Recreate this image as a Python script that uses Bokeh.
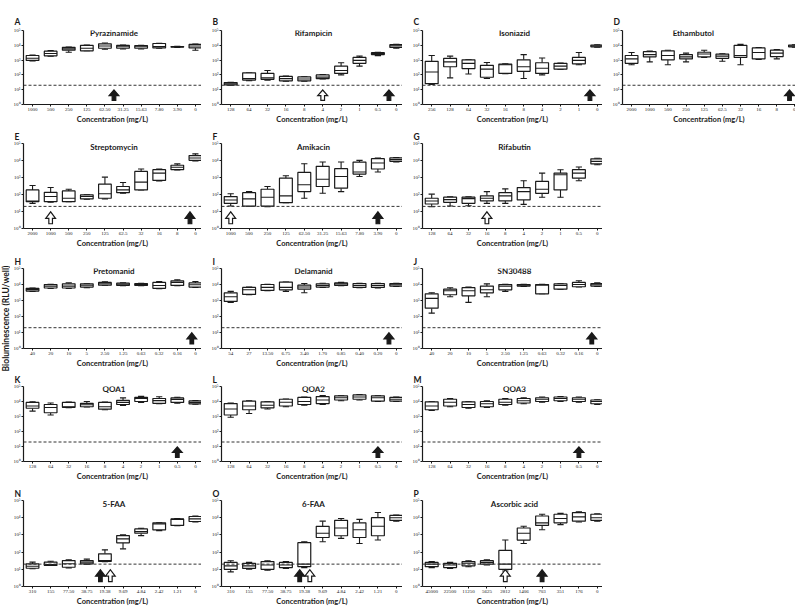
import math
from bokeh.plotting import figure
from bokeh.models import Range1d, FixedTicker, Span, Label, Spacer
from bokeh.layouts import row, column
from bokeh.embed import file_html
from bokeh.resources import INLINE

# ---------------- data (box stats are log10 RLU/well: low whisker, Q1, median, Q3, high whisker)
conc_pza = ["1000", "500", "250", "125", "62.50", "31.25", "15.63", "7.80", "3.90", "0"]
conc_rif = ["128", "64", "32", "16", "8", "4", "2", "1", "0.5", "0"]
conc_inh = ["256", "128", "64", "32", "16", "8", "4", "2", "1", "0"]
conc_emb = ["2000", "1000", "500", "250", "125", "62.5", "32", "16", "8", "0"]
conc_pa = ["40", "20", "10", "5", "2.50", "1.25", "0.63", "0.32", "0.16", "0"]
conc_dlm = ["54", "27", "13.50", "6.75", "3.40", "1.70", "0.85", "0.40", "0.20", "0"]
conc_faa = ["310", "155", "77.50", "38.75", "19.38", "9.69", "4.84", "2.42", "1.21", "0"]
conc_asc = ["45000", "22500", "11250", "5625", "2812", "1406", "703", "351", "176", "0"]

box_pyrazinamide = [[2.95, 2.98, 3.12, 3.31, 3.34], [3.27, 3.29, 3.45, 3.60, 3.65], [3.53, 3.67, 3.76, 3.86, 3.88],
                    [3.63, 3.63, 3.80, 4.00, 4.02], [3.73, 3.80, 3.95, 4.10, 4.16], [3.75, 3.80, 3.90, 4.00, 4.02],
                    [3.75, 3.80, 3.90, 3.98, 4.00], [3.80, 3.82, 3.92, 4.12, 4.14], [3.86, 3.88, 3.90, 3.92, 3.94],
                    [3.67, 3.82, 3.95, 4.06, 4.08]]
box_rifampicin = [[1.30, 1.32, 1.40, 1.48, 1.50], [1.60, 1.65, 1.75, 2.14, 2.14], [1.65, 1.70, 1.80, 2.10, 2.30],
                  [1.57, 1.60, 1.75, 1.90, 1.92], [1.58, 1.60, 1.72, 1.86, 1.88], [1.72, 1.75, 1.85, 2.00, 2.02],
                  [2.00, 2.10, 2.30, 2.59, 2.82], [2.59, 2.78, 2.98, 3.18, 3.27], [3.30, 3.37, 3.45, 3.50, 3.52],
                  [3.80, 3.85, 3.96, 4.04, 4.06]]
box_isoniazid = [[1.35, 1.41, 2.20, 2.92, 3.31], [1.80, 2.55, 2.88, 3.12, 3.27], [2.06, 2.43, 2.78, 3.02, 3.04],
                 [1.76, 1.84, 2.39, 2.65, 2.84], [2.08, 2.10, 2.69, 2.73, 2.75], [1.76, 2.24, 2.55, 3.02, 3.37],
                 [2.00, 2.10, 2.45, 2.82, 3.14], [2.37, 2.39, 2.59, 2.78, 2.80], [2.69, 2.75, 2.98, 3.18, 3.51],
                 [3.88, 3.90, 3.96, 4.02, 4.04]]
box_ethambutol = [[2.69, 2.78, 3.08, 3.31, 3.51], [2.88, 3.22, 3.37, 3.57, 3.61], [2.69, 3.02, 3.31, 3.63, 3.67],
                  [2.88, 3.08, 3.22, 3.37, 3.47], [3.18, 3.22, 3.41, 3.53, 3.67], [2.92, 3.12, 3.27, 3.41, 3.43],
                  [2.69, 3.18, 3.31, 4.00, 4.06], [3.04, 3.08, 3.51, 3.82, 3.84], [3.08, 3.24, 3.47, 3.67, 3.71],
                  [3.88, 3.90, 3.96, 4.02, 4.04]]
box_streptomycin = [[1.48, 1.58, 1.62, 2.27, 2.53], [1.54, 1.58, 1.88, 2.13, 2.41], [1.58, 1.58, 1.78, 2.21, 2.31],
                    [1.72, 1.74, 1.88, 1.98, 2.00], [1.74, 1.78, 2.04, 2.61, 3.02], [2.07, 2.11, 2.27, 2.47, 2.71],
                    [2.27, 2.27, 2.73, 3.36, 3.50], [2.80, 2.83, 3.26, 3.46, 3.50], [3.44, 3.46, 3.60, 3.72, 3.80],
                    [3.98, 4.01, 4.15, 4.29, 4.39]]
box_amikacin = [[1.32, 1.48, 1.68, 1.88, 2.04], [1.32, 1.32, 1.74, 2.11, 2.17], [1.28, 1.32, 1.84, 2.31, 2.47],
                [1.52, 1.52, 1.92, 2.96, 3.10], [1.78, 2.17, 2.57, 3.30, 3.81], [2.07, 2.47, 2.90, 3.66, 3.91],
                [2.17, 2.37, 3.06, 3.52, 3.91], [3.06, 3.20, 3.32, 3.91, 4.01], [3.32, 3.50, 3.85, 4.11, 4.15],
                [3.92, 3.95, 4.05, 4.15, 4.17]]
box_rifabutin = [[1.28, 1.44, 1.62, 1.78, 2.02], [1.32, 1.54, 1.70, 1.84, 1.86], [1.34, 1.48, 1.76, 1.84, 1.86],
                 [1.48, 1.62, 1.78, 1.92, 2.17], [1.48, 1.62, 1.92, 2.11, 2.33], [1.42, 1.68, 2.17, 2.41, 2.81],
                 [1.84, 2.07, 2.31, 2.77, 3.26], [1.84, 2.27, 3.16, 3.26, 3.46], [2.81, 2.96, 3.26, 3.46, 3.62],
                 [3.75, 3.80, 3.95, 4.10, 4.13]]
box_pretomanid = [[3.57, 3.59, 3.68, 3.76, 3.78], [3.76, 3.78, 3.90, 4.00, 4.02], [3.76, 3.78, 3.90, 4.04, 4.10],
                  [3.80, 3.84, 3.95, 4.04, 4.06], [3.94, 3.96, 4.05, 4.13, 4.17], [3.92, 3.94, 4.02, 4.08, 4.10],
                  [3.92, 3.94, 4.00, 4.06, 4.08], [3.74, 3.76, 3.94, 4.13, 4.19], [3.92, 3.94, 4.13, 4.23, 4.29],
                  [3.82, 3.84, 3.98, 4.10, 4.19]]
box_delamanid = [[2.88, 2.94, 3.23, 3.48, 3.57], [3.36, 3.38, 3.67, 3.82, 3.84], [3.61, 3.63, 3.82, 4.00, 4.02],
                 [3.57, 3.67, 3.82, 4.15, 4.15], [3.48, 3.71, 3.84, 3.96, 4.06], [3.82, 3.84, 3.94, 4.04, 4.08],
                 [3.92, 3.94, 4.04, 4.10, 4.13], [3.80, 3.82, 3.94, 4.06, 4.08], [3.78, 3.82, 3.94, 4.06, 4.08],
                 [3.88, 3.90, 3.98, 4.06, 4.08]]
box_sn30488 = [[2.21, 2.52, 3.13, 3.42, 3.48], [3.23, 3.36, 3.61, 3.71, 3.80], [2.88, 3.29, 3.61, 3.80, 3.84],
               [3.23, 3.48, 3.67, 3.90, 4.04], [3.57, 3.67, 3.90, 4.00, 4.02], [3.88, 3.90, 3.96, 4.00, 4.02],
               [3.42, 3.42, 3.96, 4.00, 4.02], [3.69, 3.71, 3.94, 4.04, 4.06], [3.84, 3.86, 4.00, 4.13, 4.23],
               [3.88, 3.90, 3.98, 4.06, 4.10]]
box_qoa1 = [[3.36, 3.55, 3.70, 3.94, 3.98], [3.10, 3.25, 3.60, 3.80, 3.90], [3.59, 3.61, 3.65, 3.94, 3.96],
            [3.63, 3.65, 3.78, 3.88, 4.00], [3.45, 3.49, 3.65, 3.94, 3.96], [3.74, 3.80, 3.94, 4.08, 4.24],
            [3.94, 4.00, 4.20, 4.28, 4.34], [3.86, 3.88, 4.06, 4.20, 4.32], [3.88, 3.94, 4.14, 4.24, 4.28],
            [3.82, 3.84, 3.94, 4.04, 4.06]]
box_qoa2 = [[2.95, 3.10, 3.50, 3.86, 3.90], [3.20, 3.45, 3.70, 4.03, 4.05], [3.50, 3.57, 3.75, 3.98, 4.00],
            [3.65, 3.70, 3.95, 4.15, 4.17], [3.75, 3.80, 4.00, 4.27, 4.29], [3.80, 3.86, 4.10, 4.33, 4.40],
            [4.05, 4.10, 4.25, 4.38, 4.40], [4.10, 4.15, 4.30, 4.44, 4.46], [4.00, 4.03, 4.25, 4.38, 4.40],
            [4.00, 4.03, 4.15, 4.27, 4.29]]
box_qoa3 = [[3.40, 3.45, 3.70, 3.98, 4.00], [3.65, 3.70, 3.95, 4.15, 4.20], [3.55, 3.60, 3.80, 3.98, 4.00],
            [3.60, 3.65, 3.85, 4.00, 4.05], [3.75, 3.80, 3.95, 4.15, 4.20], [3.85, 3.90, 4.05, 4.20, 4.25],
            [3.95, 4.00, 4.15, 4.25, 4.30], [4.00, 4.05, 4.20, 4.30, 4.33], [3.95, 4.00, 4.15, 4.25, 4.30],
            [3.80, 3.85, 4.00, 4.10, 4.12]]
box_5faa = [[1.03, 1.06, 1.18, 1.31, 1.42], [1.22, 1.22, 1.28, 1.42, 1.47], [1.08, 1.12, 1.32, 1.51, 1.55],
            [1.30, 1.32, 1.42, 1.51, 1.59], [1.44, 1.46, 1.51, 1.90, 2.13], [2.19, 2.54, 2.77, 2.96, 3.00],
            [2.96, 3.10, 3.20, 3.35, 3.39], [3.25, 3.29, 3.64, 3.70, 3.72], [3.53, 3.55, 3.90, 3.93, 3.95],
            [3.76, 3.78, 3.93, 4.07, 4.10]]
box_6faa = [[0.85, 1.00, 1.20, 1.40, 1.50], [1.00, 1.05, 1.20, 1.35, 1.40], [0.95, 1.00, 1.25, 1.45, 1.50],
            [1.05, 1.10, 1.25, 1.40, 1.45], [1.10, 1.15, 1.30, 2.55, 2.60], [2.60, 2.85, 3.10, 3.50, 3.80],
            [2.80, 2.95, 3.40, 3.85, 3.95], [2.50, 2.85, 3.30, 3.70, 3.90], [2.70, 2.95, 3.50, 4.00, 4.30],
            [3.80, 3.84, 4.00, 4.13, 4.15]]
box_ascorbic = [[1.10, 1.15, 1.30, 1.40, 1.45], [1.05, 1.10, 1.25, 1.35, 1.40], [1.15, 1.20, 1.35, 1.45, 1.50],
                [1.25, 1.30, 1.40, 1.50, 1.55], [0.90, 1.00, 1.30, 2.10, 2.70], [2.50, 2.70, 3.10, 3.40, 3.50],
                [3.30, 3.55, 3.70, 4.10, 4.20], [3.60, 3.70, 3.95, 4.20, 4.25], [3.75, 3.80, 4.05, 4.30, 4.35],
                [3.80, 3.85, 4.00, 4.20, 4.22]]

# arrow positions (concentration index, 1-based) : filled = MIC, open = other marker
filled_arrows = {"A": [5.5], "B": [9.6], "C": [9.6], "D": [9.7], "E": [9.7], "F": [9], "G": [],
                 "H": [9.8], "I": [9.6], "J": [9.7], "K": [9], "L": [9], "M": [9],
                 "N": [4.75], "O": [4.75], "P": [7]}
open_arrows = {"A": [], "B": [6], "C": [], "D": [], "E": [2], "F": [1], "G": [4],
               "H": [], "I": [], "J": [], "K": [], "L": [], "M": [],
               "N": [5.3], "O": [5.3], "P": [5]}

detection_limit_log10 = 1.3
y_ticks = [1, 10, 100, 1000, 10000, 100000]
y_tick_labels = ["10⁰", "10¹", "10²", "10³", "10⁴", "10⁵"]
x_title = "Concentration (mg/L)"
y_title = "Bioluminescence (RLU/well)"

panels = [
    [("A", "Pyrazinamide", conc_pza, box_pyrazinamide), ("B", "Rifampicin", conc_rif, box_rifampicin),
     ("C", "Isoniazid", conc_inh, box_isoniazid), ("D", "Ethambutol", conc_emb, box_ethambutol)],
    [("E", "Streptomycin", conc_emb, box_streptomycin), ("F", "Amikacin", conc_pza, box_amikacin),
     ("G", "Rifabutin", conc_rif, box_rifabutin)],
    [("H", "Pretomanid", conc_pa, box_pretomanid), ("I", "Delamanid", conc_dlm, box_delamanid),
     ("J", "SN30488", conc_pa, box_sn30488)],
    [("K", "QOA1", conc_rif, box_qoa1), ("L", "QOA2", conc_rif, box_qoa2), ("M", "QOA3", conc_rif, box_qoa3)],
    [("N", "5-FAA", conc_faa, box_5faa), ("O", "6-FAA", conc_faa, box_6faa), ("P", "Ascorbic acid", conc_asc, box_ascorbic)],
]

# ---------------- layout constants
LABEL_W = 10
COL_W = [191, 201, 200, 193]
COL_LEFT = [10, 20, 20, 20]
CAT_PX = 18.4
ROW_H = [126, 124, 120, 113, 128]
ROW_TOP = [30, 17, 18, 16, 17]
ROW_BOTTOM = [18, 18, 18, 18, 25]
TITLE_STANDOFF = [8, 4, 4, 3, 4]
INK = "#1a1a1a"
TITLE_FONT = "Lato"

ARROW_DX = [-0.1, -0.1, -0.27, 0.0, 0.27, 0.1, 0.1]
ARROW_LY = [0.28, 0.6, 0.6, 0.98, 0.6, 0.6, 0.28]


def make_panel(ci, ri, letter, name, conc, box):
    width, left = COL_W[ci], COL_LEFT[ci]
    frame_w = width - left
    x_start = 0.5
    x_end = x_start + frame_w / CAT_PX if ci < 3 else 10.03
    p = figure(width=width, height=ROW_H[ri], x_range=Range1d(x_start, x_end), y_range=Range1d(1, 1e5),
               y_axis_type="log", output_backend="svg", toolbar_location=None,
               min_border_left=left, min_border_right=0, min_border_top=ROW_TOP[ri],
               min_border_bottom=ROW_BOTTOM[ri])
    p.outline_line_color = None
    p.grid.visible = False
    p.background_fill_color = "white"

    # panel letter
    p.title.text = letter
    p.title.align = "left"
    p.title.offset = -9
    p.title.standoff = TITLE_STANDOFF[ri]
    p.title.text_font = TITLE_FONT
    p.title.text_font_size = "8.5px"
    p.title.text_font_style = "bold"
    p.title.text_color = INK

    for ax in (p.xaxis[0], p.yaxis[0]):
        ax.axis_line_color = INK
        ax.axis_line_width = 1.2
        ax.major_tick_line_color = INK
        ax.major_tick_out = 2
        ax.major_tick_in = 0
        ax.minor_tick_line_color = None
        ax.major_label_text_font = "Liberation Serif"
        ax.major_label_text_color = INK
        ax.major_label_standoff = 1
        ax.major_label_text_line_height = 0.9
        ax.major_label_text_font_size = "5px"

    p.yaxis.ticker = FixedTicker(ticks=y_ticks)
    p.yaxis.major_label_overrides = {t: s for t, s in zip(y_ticks, y_tick_labels)}
    xs = list(range(1, len(conc) + 1))
    p.xaxis.ticker = FixedTicker(ticks=xs)
    p.xaxis.major_label_overrides = {x: c for x, c in zip(xs, conc)}
    p.xaxis.axis_label = x_title
    p.xaxis.axis_label_text_font = TITLE_FONT
    p.xaxis.axis_label_text_font_size = "7.5px"
    p.xaxis.axis_label_text_font_style = "bold"
    p.xaxis.axis_label_text_color = INK
    p.xaxis.axis_label_text_line_height = 0.9
    p.xaxis.axis_label_standoff = 1

    # detection limit
    p.add_layout(Span(location=10 ** detection_limit_log10, dimension="width", line_dash="3 2",
                      line_color="#333333", line_width=1))

    lo = [10 ** b[0] for b in box]
    q1 = [10 ** b[1] for b in box]
    md = [10 ** b[2] for b in box]
    q3 = [10 ** b[3] for b in box]
    hi = [10 ** b[4] for b in box]
    cap, half = 0.17, 0.35
    p.segment(xs, lo, xs, q1, line_color=INK, line_width=1.1)
    p.segment(xs, q3, xs, hi, line_color=INK, line_width=1.1)
    p.segment([x - cap for x in xs], lo, [x + cap for x in xs], lo, line_color=INK, line_width=1.1)
    p.segment([x - cap for x in xs], hi, [x + cap for x in xs], hi, line_color=INK, line_width=1.1)
    p.vbar(x=xs, width=2 * half, bottom=q1, top=q3, fill_color="white", line_color=INK, line_width=1.2)
    p.segment([x - half for x in xs], md, [x + half for x in xs], md, line_color=INK, line_width=1.1)

    # arrows
    for positions, fill in ((filled_arrows[letter], INK), (open_arrows[letter], "white")):
        if positions:
            pxs = [[x + d for d in ARROW_DX] for x in positions]
            pys = [[10 ** v for v in ARROW_LY] for _ in positions]
            p.patches(pxs, pys, fill_color=fill, line_color=INK, line_width=1.2, line_join="miter")

    title_x = 5.5 if letter != "D" else 4.4
    p.add_layout(Label(x=title_x, y=10 ** 4.82, text=name, text_align="center", text_baseline="middle",
                       text_font=TITLE_FONT, text_font_size="8px", text_font_style="bold", text_color=INK))
    return p


rows = []
for ri, row_panels in enumerate(panels):
    figs = [make_panel(ci, ri, *spec) for ci, spec in enumerate(row_panels)]
    if len(figs) < 4:
        figs.append(Spacer(width=COL_W[3], height=ROW_H[ri]))
    rows.append(row(*figs, spacing=0))
grid = column(*rows, spacing=0)

# shared y-axis title
total_h = sum(ROW_H)
ylab = figure(width=LABEL_W, height=total_h, output_backend="svg", toolbar_location=None,
              x_axis_location=None, y_axis_location=None, min_border=0,
              x_range=Range1d(0, 1), y_range=Range1d(0, 1))
ylab.outline_line_color = None
ylab.grid.visible = False
ylab.title.visible = False
ylab.add_layout(Label(x=5, y=total_h - 318, x_units="screen", y_units="screen",
                      text=y_title, angle=math.pi / 2, text_align="center",
                      text_baseline="middle", text_font=TITLE_FONT, text_font_size="8.5px",
                      text_font_style="bold", text_color=INK))

layout = row(ylab, grid, spacing=0)
open("out.html", "w").write(file_html(layout, INLINE))
